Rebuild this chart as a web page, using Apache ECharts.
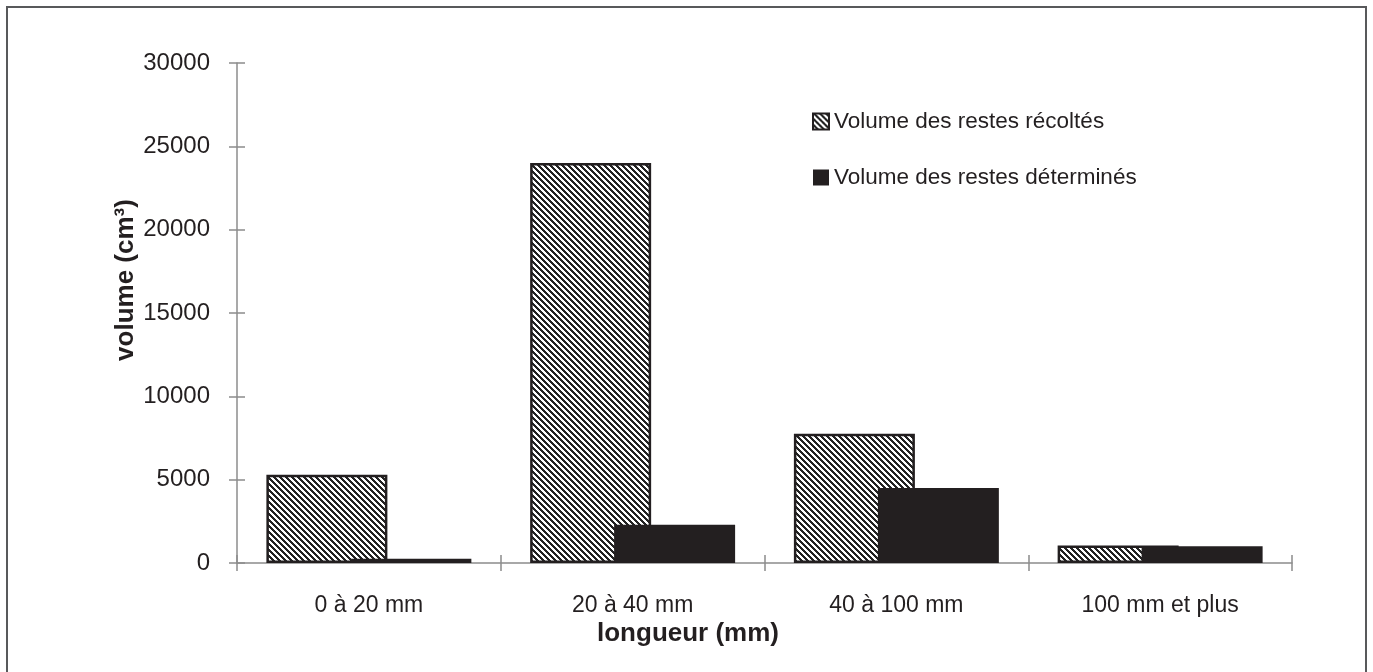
<!DOCTYPE html>
<html>
<head>
<meta charset="utf-8">
<script src="https://cdn.jsdelivr.net/npm/echarts@6/dist/echarts.min.js"></script>
<style>
html,body{margin:0;padding:0;background:#fff;}
#chart{width:1373px;height:672px;}
</style>
</head>
<body>
<div id="chart"></div>
<script>
const categories = ['0 à 20 mm', '20 à 40 mm', '40 à 100 mm', '100 mm et plus'];
const seriesNames = ['Volume des restes récoltés', 'Volume des restes déterminés'];
const volRecoltes = [5300, 24000, 7750, 1050];
const volDetermines = [250, 2300, 4500, 1000];
const yMin = 0, yMax = 30000, yStep = 5000;

const INK = '#231f20';
const AXIS = '#8c8c8c';
const FONT = '"Liberation Sans", Arial, sans-serif';

function hatchPattern() {
  const s = 6;
  const c = document.createElement('canvas');
  c.width = s; c.height = s;
  const ctx = c.getContext('2d');
  const img = ctx.createImageData(s, s);
  for (let y = 0; y < s; y++) {
    for (let x = 0; x < s; x++) {
      const k = ((x - y) % s + s) % s;
      const v = k < 3 ? 0x23 : 0xff;
      const i = (y * s + x) * 4;
      img.data[i] = v; img.data[i + 1] = v; img.data[i + 2] = v; img.data[i + 3] = 255;
    }
  }
  ctx.putImageData(img, 0, 0);
  return c;
}

const chart = echarts.init(document.getElementById('chart'), null, {renderer: 'canvas'});
const yBase = {
  type: 'value', min: yMin, max: yMax, interval: yStep, position: 'left',
  splitLine: {show: false}
};
const xBase = {
  type: 'category', data: categories, position: 'bottom',
  splitLine: {show: false}
};
chart.setOption({
  animation: false,
  backgroundColor: '#fff',
  textStyle: {fontFamily: FONT, color: INK},
  graphic: [{
    type: 'rect', silent: true,
    shape: {x: 7, y: 7, width: 1359, height: 720},
    style: {fill: 'none', stroke: '#58595b', lineWidth: 2}
  }],
  grid: {left: 237, right: 81, top: 63, bottom: 109, containLabel: false},
  legend: {
    orient: 'vertical', left: 807, top: 105,
    itemWidth: 16, itemHeight: 16, itemGap: 33,
    icon: 'rect',
    textStyle: {fontFamily: FONT, fontSize: 22.5, color: INK, padding: [0, 0, 0, 0]},
    data: seriesNames
  },
  xAxis: [
    Object.assign({}, xBase, {
      axisLine: {show: true, lineStyle: {color: AXIS, width: 1.5}},
      axisTick: {show: true, inside: false, length: 8, lineStyle: {color: AXIS, width: 1.5}},
      axisLabel: {fontFamily: FONT, fontSize: 23, color: INK, margin: 31},
      name: 'longueur (mm)', nameLocation: 'middle', nameGap: 58, nameMoveOverlap: false,
      nameTextStyle: {fontFamily: FONT, fontSize: 26, fontWeight: 'bold', color: INK, padding: [0, 153, 0, 0]}
    }),
    Object.assign({}, xBase, {
      axisLine: {show: false},
      axisTick: {show: true, inside: true, length: 8, lineStyle: {color: AXIS, width: 1.5}},
      axisLabel: {show: false}
    })
  ],
  yAxis: [
    Object.assign({}, yBase, {
      axisLine: {show: true, lineStyle: {color: AXIS, width: 1.5}},
      axisTick: {show: true, inside: false, length: 8, lineStyle: {color: AXIS, width: 1.5}},
      axisLabel: {fontFamily: FONT, fontSize: 24, color: INK, margin: 27, formatter: v => String(v)},
      name: 'volume (cm³)', nameLocation: 'middle', nameGap: 98, nameRotate: 90, nameMoveOverlap: false,
      nameTextStyle: {fontFamily: FONT, fontSize: 26, fontWeight: 'bold', color: INK, padding: [0, 0, 0, 66]}
    }),
    Object.assign({}, yBase, {
      axisLine: {show: false},
      axisTick: {show: true, inside: true, length: 8, lineStyle: {color: AXIS, width: 1.5}},
      axisLabel: {show: false}
    })
  ],
  series: [
    {
      name: seriesNames[0], type: 'bar', xAxisIndex: 0, yAxisIndex: 0,
      data: volRecoltes, barWidth: 121, barGap: '-30.6%',
      itemStyle: {color: {image: hatchPattern(), repeat: 'repeat'}, borderColor: INK, borderWidth: 2.5}
    },
    {
      name: seriesNames[1], type: 'bar', xAxisIndex: 0, yAxisIndex: 0,
      data: volDetermines, barWidth: 121, barGap: '-30.6%',
      itemStyle: {color: INK}
    }
  ]
});
</script>
</body>
</html>
